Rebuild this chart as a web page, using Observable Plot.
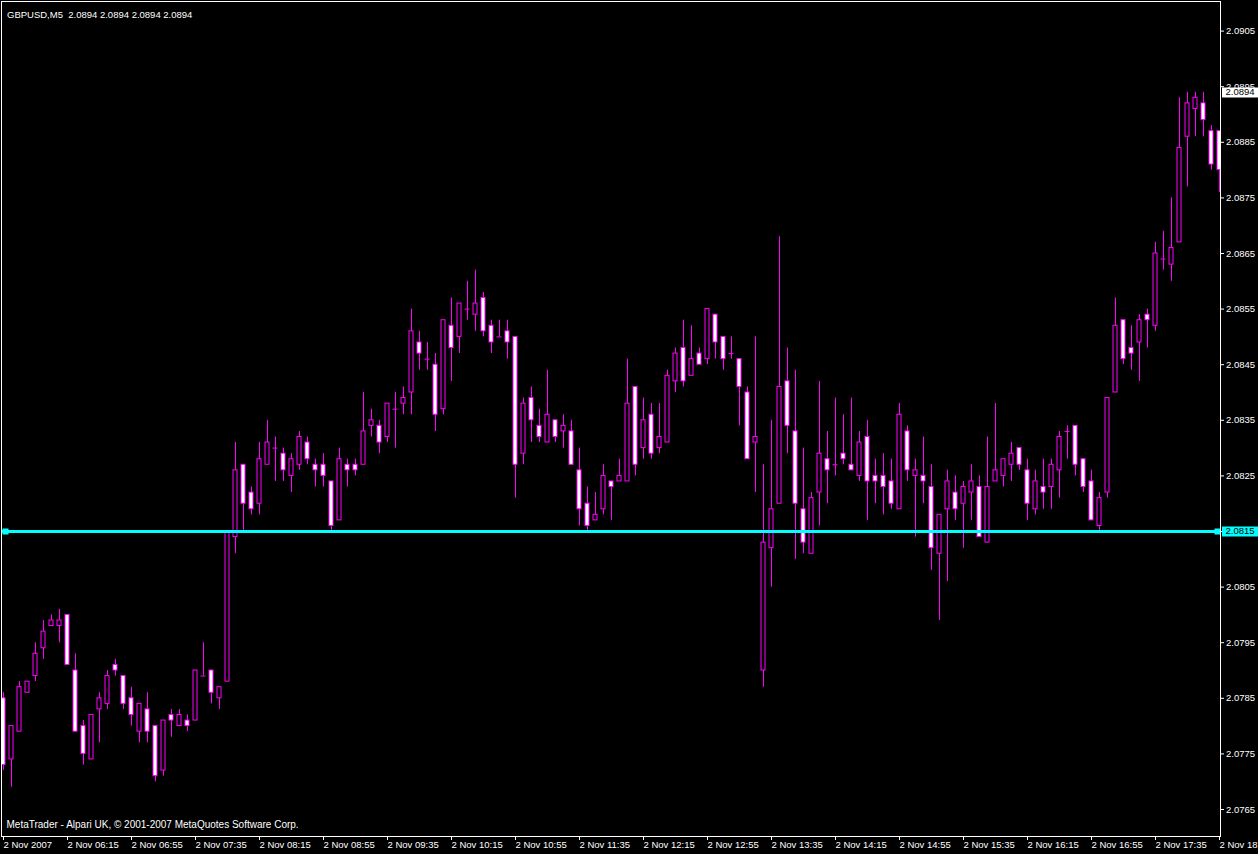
<!DOCTYPE html>
<html><head><meta charset="utf-8">
<script src="https://cdn.jsdelivr.net/npm/d3@7"></script>
<script src="https://cdn.jsdelivr.net/npm/@observablehq/plot@0.6"></script>
<style>html,body{margin:0;padding:0;background:#000;overflow:hidden}</style>
</head><body><div id="chart"></div>
<script>
const symbolName = "GBPUSD,M5";
const lastQuote = [2.0894, 2.0894, 2.0894, 2.0894];
const copyright = "MetaTrader - Alpari UK, \u00a9 2001-2007 MetaQuotes Software Corp.";

const opens = [2.0785,2.0774,2.0779,2.0786,2.0789,2.0794,2.0798,2.0798,2.0800,2.0790,
2.0780,2.0774,2.0783,2.0784,2.0791,2.0789,2.0785,2.0779,2.0783,2.0780,
2.0772,2.0782,2.0780,2.0781,2.0781,2.0789,2.0790,2.0785,2.0788,2.0814,
2.0827,2.0822,2.0820,2.0827,2.0830,2.0829,2.0825,2.0827,2.0831,2.0827,
2.0827,2.0824,2.0817,2.0827,2.0827,2.0827,2.0834,2.0834,2.0832,2.0837,
2.0838,2.0840,2.0849,2.0846,2.0845,2.0837,2.0852,2.0850,2.0855,2.0854,
2.0857,2.0852,2.0850,2.0851,2.0850,2.0829,2.0839,2.0834,2.0831,2.0835,
2.0833,2.0833,2.0826,2.0820,2.0817,2.0819,2.0824,2.0824,2.0824,2.0841,
2.0830,2.0836,2.0830,2.0831,2.0842,2.0848,2.0843,2.0847,2.0846,2.0854,
2.0850,2.0847,2.0846,2.0840,2.0831,2.0790,2.0812,2.0820,2.0842,2.0833,
2.0819,2.0811,2.0822,2.0828,2.0827,2.0829,2.0827,2.0825,2.0832,2.0825,
2.0825,2.0824,2.0819,2.0833,2.0825,2.0825,2.0823,2.0811,2.0819,2.0822,
2.0820,2.0822,2.0823,2.0813,2.0824,2.0825,2.0827,2.0830,2.0826,2.0819,
2.0823,2.0823,2.0826,2.0833,2.0834,2.0828,2.0824,2.0816,2.0822,2.0840,
2.0853,2.0848,2.0849,2.0854,2.0852,2.0864,2.0863,2.0867,2.0886,2.0891,
2.0892,2.0887,2.0887];
const highs = [2.0786,2.0780,2.0788,2.0788,2.0795,2.0799,2.0800,2.0801,2.0800,2.0793,
2.0781,2.0782,2.0786,2.0790,2.0792,2.0789,2.0787,2.0784,2.0786,2.0780,
2.0781,2.0783,2.0783,2.0782,2.0790,2.0795,2.0790,2.0787,2.0815,2.0831,
2.0827,2.0823,2.0831,2.0835,2.0832,2.0830,2.0829,2.0833,2.0832,2.0828,
2.0829,2.0824,2.0830,2.0828,2.0828,2.0840,2.0837,2.0835,2.0838,2.0840,
2.0841,2.0855,2.0851,2.0849,2.0847,2.0853,2.0857,2.0856,2.0860,2.0862,
2.0858,2.0853,2.0853,2.0853,2.0850,2.0839,2.0841,2.0837,2.0844,2.0835,
2.0836,2.0835,2.0830,2.0823,2.0822,2.0827,2.0824,2.0828,2.0846,2.0841,
2.0839,2.0838,2.0838,2.0844,2.0848,2.0853,2.0852,2.0848,2.0855,2.0854,
2.0850,2.0850,2.0846,2.0841,2.0850,2.0827,2.0835,2.0868,2.0848,2.0844,
2.0830,2.0822,2.0842,2.0833,2.0839,2.0836,2.0839,2.0833,2.0835,2.0828,
2.0829,2.0828,2.0838,2.0834,2.0828,2.0832,2.0827,2.0818,2.0826,2.0825,
2.0824,2.0827,2.0825,2.0832,2.0838,2.0828,2.0831,2.0830,2.0828,2.0826,
2.0828,2.0828,2.0833,2.0834,2.0834,2.0828,2.0826,2.0822,2.0839,2.0857,
2.0853,2.0852,2.0854,2.0855,2.0867,2.0869,2.0875,2.0893,2.0894,2.0894,
2.0894,2.0888,2.0887];
const lows = [2.0772,2.0769,2.0779,2.0786,2.0788,2.0792,2.0798,2.0795,2.0791,2.0779,
2.0773,2.0774,2.0777,2.0783,2.0789,2.0783,2.0780,2.0777,2.0777,2.0770,
2.0771,2.0778,2.0780,2.0779,2.0781,2.0789,2.0784,2.0783,2.0788,2.0811,
2.0815,2.0818,2.0818,2.0827,2.0824,2.0824,2.0822,2.0826,2.0827,2.0823,
2.0823,2.0815,2.0817,2.0823,2.0825,2.0827,2.0832,2.0829,2.0831,2.0830,
2.0836,2.0836,2.0844,2.0844,2.0833,2.0836,2.0842,2.0847,2.0853,2.0851,
2.0850,2.0847,2.0850,2.0846,2.0821,2.0827,2.0831,2.0831,2.0831,2.0831,
2.0830,2.0827,2.0816,2.0815,2.0817,2.0818,2.0817,2.0824,2.0824,2.0825,
2.0828,2.0828,2.0829,2.0831,2.0840,2.0841,2.0843,2.0845,2.0845,2.0846,
2.0844,2.0846,2.0834,2.0828,2.0822,2.0787,2.0805,2.0820,2.0829,2.0810,
2.0811,2.0811,2.0816,2.0820,2.0825,2.0827,2.0826,2.0824,2.0817,2.0820,
2.0818,2.0819,2.0819,2.0824,2.0814,2.0820,2.0808,2.0799,2.0806,2.0817,
2.0812,2.0817,2.0814,2.0813,2.0824,2.0823,2.0824,2.0826,2.0817,2.0818,
2.0819,2.0819,2.0821,2.0828,2.0825,2.0822,2.0817,2.0815,2.0821,2.0840,
2.0845,2.0844,2.0842,2.0848,2.0851,2.0862,2.0860,2.0867,2.0877,2.0886,
2.0886,2.0880,2.0876];
const closes = [2.0773,2.0780,2.0787,2.0788,2.0793,2.0797,2.0799,2.0799,2.0791,2.0779,
2.0775,2.0782,2.0785,2.0789,2.0790,2.0784,2.0782,2.0784,2.0779,2.0771,
2.0781,2.0781,2.0782,2.0780,2.0790,2.0789,2.0786,2.0787,2.0815,2.0826,
2.0820,2.0819,2.0828,2.0831,2.0830,2.0826,2.0828,2.0832,2.0828,2.0826,
2.0825,2.0816,2.0828,2.0826,2.0826,2.0833,2.0835,2.0831,2.0838,2.0837,
2.0839,2.0851,2.0847,2.0846,2.0836,2.0853,2.0848,2.0856,2.0855,2.0856,
2.0851,2.0849,2.0850,2.0849,2.0827,2.0838,2.0835,2.0832,2.0836,2.0832,
2.0834,2.0827,2.0819,2.0816,2.0818,2.0825,2.0823,2.0825,2.0838,2.0827,
2.0835,2.0829,2.0832,2.0843,2.0847,2.0842,2.0846,2.0845,2.0855,2.0849,
2.0846,2.0847,2.0841,2.0828,2.0832,2.0813,2.0819,2.0841,2.0834,2.0820,
2.0813,2.0821,2.0829,2.0826,2.0827,2.0828,2.0826,2.0831,2.0824,2.0824,
2.0823,2.0820,2.0836,2.0826,2.0826,2.0824,2.0812,2.0818,2.0824,2.0819,
2.0823,2.0824,2.0814,2.0823,2.0826,2.0828,2.0829,2.0827,2.0820,2.0824,
2.0822,2.0827,2.0832,2.0833,2.0827,2.0823,2.0817,2.0821,2.0839,2.0852,
2.0846,2.0847,2.0853,2.0853,2.0865,2.0864,2.0866,2.0884,2.0892,2.0893,
2.0889,2.0881,2.0880];

const timeLabels = ["2 Nov 2007","2 Nov 06:15","2 Nov 06:55","2 Nov 07:35","2 Nov 08:15",
"2 Nov 08:55","2 Nov 09:35","2 Nov 10:15","2 Nov 10:55","2 Nov 11:35","2 Nov 12:15",
"2 Nov 12:55","2 Nov 13:35","2 Nov 14:15","2 Nov 14:55","2 Nov 15:35","2 Nov 16:15",
"2 Nov 16:55","2 Nov 17:35","2 Nov 18:15"];
const barsPerLabel = 8;
const priceTicks = [2.0765,2.0775,2.0785,2.0795,2.0805,2.0815,2.0825,2.0835,2.0845,2.0855,
2.0865,2.0875,2.0885,2.0895,2.0905];
const lineLevel = 2.0815;
const bidLevel = 2.0894;

const MAGENTA = "#ff00ff", CYAN = "#00ffff";
const FONT = "'Liberation Sans', Arial, sans-serif";
const bars = opens.map((o, i) => ({i, open: o, high: highs[i], low: lows[i], close: closes[i]}));
const bull = bars.filter(d => d.close > d.open);
const bear = bars.filter(d => d.close < d.open);
const doji = bars.filter(d => d.close === d.open);
const xTicks = timeLabels.map((t, k) => ({bar: k * barsPerLabel, label: t}));
const title = symbolName + "\u00a0 " + lastQuote.map(v => v.toFixed(4)).join(" ");

const chart = Plot.plot({
  width: 1258, height: 854,
  marginLeft: 1, marginTop: 1, marginRight: 38, marginBottom: 18,
  style: {background: "#000", color: "#fff", fontFamily: FONT, fontSize: "9.5px"},
  x: {domain: [-0.25, 152.125], axis: "bottom", ticks: xTicks.map(d => d.bar), tickFormat: () => "", tickSize: 4, label: null},
  y: {domain: [2.0760144, 2.0910324], axis: "right", ticks: priceTicks, tickFormat: d3.format(".4f"), tickSize: 3, tickPadding: 2.5, label: null},
  marks: [
    Plot.ruleX(bars, {x: "i", y1: "low", y2: "high", stroke: MAGENTA, strokeWidth: 1, clip: true}),
    Plot.rect(bull, {x1: d => d.i - 0.25, x2: d => d.i + 0.25, y1: "open", y2: "close", fill: "#000", stroke: MAGENTA, strokeWidth: 1, clip: true}),
    Plot.rect(bear, {x1: d => d.i - 0.25, x2: d => d.i + 0.25, y1: "open", y2: "close", fill: "#fff", stroke: MAGENTA, strokeWidth: 1, clip: true}),
    Plot.ruleY(doji, {y: "open", x1: d => d.i - 0.3125, x2: d => d.i + 0.3125, stroke: MAGENTA, strokeWidth: 1, clip: true}),
    Plot.ruleY([lineLevel], {stroke: CYAN, strokeWidth: 3}),
    Plot.dot([lineLevel], {y: d => d, frameAnchor: "left", dx: 4, symbol: "square", r: 3.4, fill: CYAN, stroke: null}),
    Plot.dot([lineLevel], {y: d => d, frameAnchor: "right", dx: -3, symbol: "square", r: 3.4, fill: CYAN, stroke: null}),
    Plot.frame({stroke: "#fff"}),
    Plot.text(xTicks, {x: "bar", text: "label", frameAnchor: "bottom", dy: 11, textAnchor: "start", fill: "#fff"}),
    Plot.text([title], {frameAnchor: "top-left", dx: 5.5, dy: 9.5, textAnchor: "start", fill: "#fff"}),
    Plot.text([copyright], {frameAnchor: "bottom-left", dx: 5, dy: -8.5, textAnchor: "start", fill: "#fff", fontSize: 10})
  ]
});

// price boxes on the right axis, positioned through Plot's own scales
const ys = chart.scale("y"), xs = chart.scale("x");
const yf = ys.apply ? (v => ys.apply(v)) : d3.scaleLinear(ys.domain, ys.range);
const xRight = xs.range[1];
const svg = d3.select(chart);
[{v: lineLevel, bg: CYAN}, {v: bidLevel, bg: "#fff"}].forEach(b => {
  const y = yf(b.v);
  const g = svg.append("g").attr("font-family", FONT).attr("font-size", 9.5).attr("text-anchor", "start");
  g.append("rect").attr("x", xRight + 2).attr("y", Math.round(y) - 4.5).attr("width", 40).attr("height", 10).attr("fill", b.bg);
  g.append("text").attr("x", xRight + 5.5).attr("y", y).attr("dy", "0.32em").attr("fill", "#000").attr("text-anchor", "start").text(b.v.toFixed(4));
});

document.getElementById("chart").appendChild(chart);
</script>
</body></html>
